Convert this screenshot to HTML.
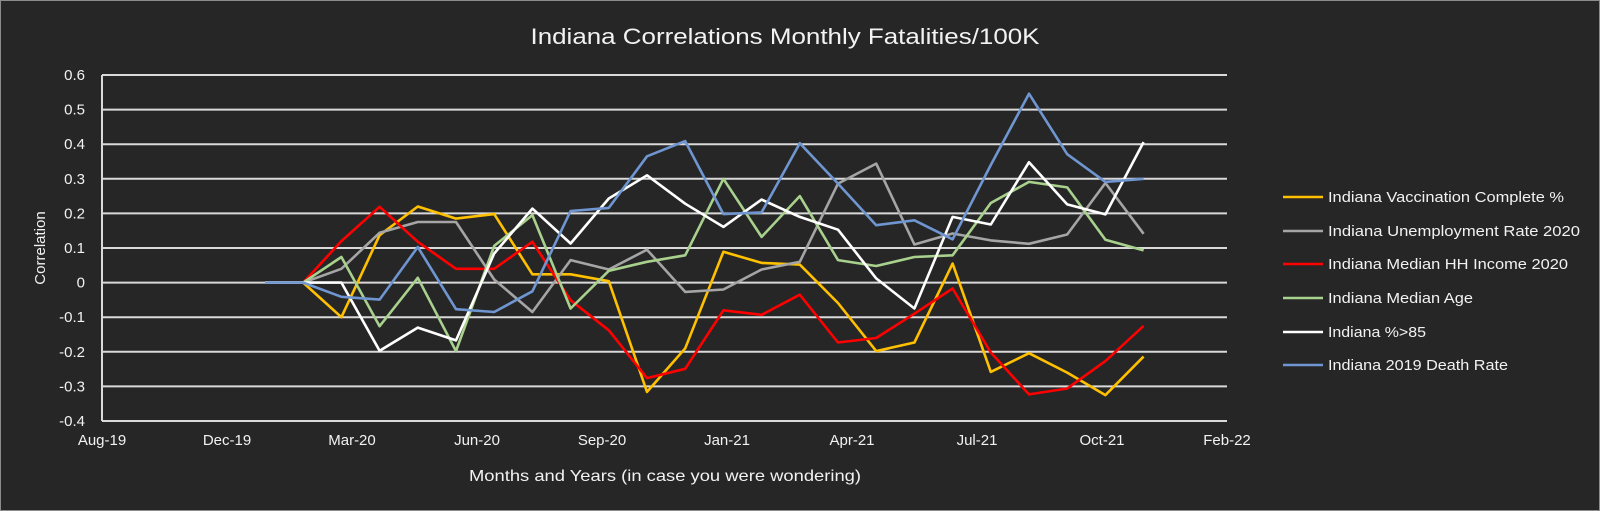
<!DOCTYPE html>
<html><head><meta charset="utf-8"><style>
html,body{margin:0;padding:0;background:#262626;}
svg{display:block;font-family:"Liberation Sans",sans-serif;}
</style></head><body>
<svg id="chart" width="1600" height="511" viewBox="0 0 1600 511" xmlns="http://www.w3.org/2000/svg">
<rect x="0.5" y="0.5" width="1599" height="510" fill="#262626" stroke="#8c8c8c" stroke-width="1"/>
<text x="785" y="44" fill="#f2f2f2" font-size="22" text-anchor="middle" textLength="509" lengthAdjust="spacingAndGlyphs">Indiana Correlations Monthly Fatalities/100K</text>
<g id="grid"></g>
<g id="yticks"></g>
<g id="xticks"></g>
<text transform="translate(45,248) rotate(-90)" fill="#f2f2f2" font-size="15" text-anchor="middle">Correlation</text>
<text x="665" y="481" fill="#f2f2f2" font-size="16" text-anchor="middle" textLength="392" lengthAdjust="spacingAndGlyphs">Months and Years (in case you were wondering)</text>
<g id="series"></g>
<g id="legend"></g>
</svg>
<script>
const yTicks=[0.6,0.5,0.4,0.3,0.2,0.1,0,-0.1,-0.2,-0.3,-0.4];
const xTickLabels=["Aug-19","Dec-19","Mar-20","Jun-20","Sep-20","Jan-21","Apr-21","Jul-21","Oct-21","Feb-22"];
const seriesNames=["Indiana Vaccination Complete %","Indiana Unemployment Rate 2020","Indiana Median HH Income 2020","Indiana Median Age","Indiana %>85","Indiana 2019 Death Rate"];
const seriesColors=["#ffc000","#a5a5a5","#ff0000","#a9d18e","#ffffff","#6f96d1"];
const vaccination=[0,0,-0.10,0.137,0.22,0.185,0.198,0.024,0.024,0.004,-0.316,-0.19,0.089,0.057,0.052,-0.059,-0.198,-0.173,0.055,-0.258,-0.204,-0.26,-0.325,-0.214];
const unemployment=[0,0,0.04,0.144,0.175,0.175,0.009,-0.085,0.065,0.038,0.095,-0.027,-0.02,0.038,0.06,0.286,0.344,0.11,0.142,0.122,0.112,0.139,0.288,0.141];
const income=[0,0,0.12,0.219,0.118,0.04,0.04,0.118,-0.051,-0.138,-0.276,-0.249,-0.08,-0.093,-0.035,-0.173,-0.16,-0.09,-0.017,-0.202,-0.323,-0.306,-0.227,-0.125];
const medianAge=[0,0,0.074,-0.126,0.014,-0.198,0.106,0.195,-0.075,0.034,0.06,0.079,0.30,0.132,0.25,0.065,0.048,0.074,0.079,0.23,0.291,0.275,0.124,0.093];
const over85=[0,0,0,-0.197,-0.13,-0.167,0.084,0.214,0.113,0.243,0.31,0.228,0.161,0.24,0.19,0.153,0.012,-0.075,0.19,0.168,0.348,0.226,0.197,0.406];
const deathRate=[0,0,-0.041,-0.049,0.103,-0.077,-0.085,-0.025,0.207,0.216,0.365,0.409,0.198,0.203,0.403,0.286,0.166,0.18,0.125,0.34,0.546,0.371,0.291,0.30];
const allSeries=[vaccination,unemployment,income,medianAge,over85,deathRate];

const NS="http://www.w3.org/2000/svg";
const plotL=102,plotR=1227,yTop=75,yBot=421;
function yScale(v){return yTop+(0.6-v)/(1.0)*(yBot-yTop);}
function xIndex(i){return 265+i*38.2;}
function xTick(j){return plotL+j*(plotR-plotL)/(xTickLabels.length-1);}
function mk(tag,attrs,parent){const e=document.createElementNS(NS,tag);for(const k in attrs)e.setAttribute(k,attrs[k]);parent.appendChild(e);return e;}

const grid=document.getElementById('grid'),yt=document.getElementById('yticks'),xt=document.getElementById('xticks');
yTicks.forEach(v=>{
  const y=yScale(v);
  const l=mk('line',{x1:plotL,x2:plotR,y1:y,y2:y,stroke:'#d9d9d9','stroke-width':2},grid);
  
  
  const t=mk('text',{x:85,y:y+5,fill:'#f2f2f2','font-size':15,'text-anchor':'end'},yt);
  t.textContent=String(v);
  
  
});
const ax=mk('line',{x1:plotL,x2:plotL,y1:yTop,y2:yBot,stroke:'#d9d9d9','stroke-width':2},grid);


xTickLabels.forEach((s,j)=>{
  const t=mk('text',{x:xTick(j),y:445,fill:'#f2f2f2','font-size':15,'text-anchor':'middle'},xt);
  t.textContent=s;
  
  
});
const sg=document.getElementById('series');
allSeries.forEach((arr,k)=>{
  const pts=arr.map((v,i)=>xIndex(i).toFixed(1)+','+yScale(v).toFixed(1)).join(' ');
  const p=mk('polyline',{points:pts,fill:'none',stroke:seriesColors[k],'stroke-width':2.6,'stroke-linejoin':'round'},sg);
  
  
});
const lg=document.getElementById('legend');
const legY=[197,231,264,298,332,365];
const legW=[236,252,240,145,98,180];
seriesNames.forEach((n,k)=>{
  const g=mk('g',{},lg);
  
  
  mk('line',{x1:1283,x2:1323,y1:legY[k],y2:legY[k],stroke:seriesColors[k],'stroke-width':2.6},g);
  const t=mk('text',{x:1328,y:legY[k]+5,fill:'#f2f2f2','font-size':15,textLength:legW[k],lengthAdjust:'spacingAndGlyphs'},g);
  t.textContent=n;
});
</script>
</body></html>
